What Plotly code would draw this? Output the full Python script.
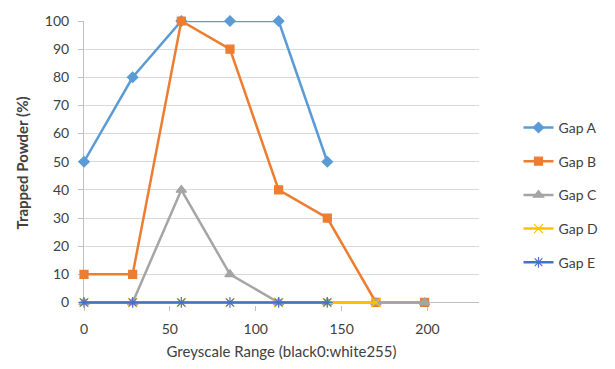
import plotly.graph_objects as go

# Greyscale bin centres (0..255 split into nine bins)
grey_a = [0, 28.33, 56.67, 85, 113.33, 141.67]
grey_b = [0, 28.33, 56.67, 85, 113.33, 141.67, 170, 198.33]
grey_c = [0, 28.33, 56.67, 85, 113.33, 141.67, 170, 198.33]
grey_d = [0, 28.33, 56.67, 85, 113.33, 141.67, 170]
grey_e = [0, 28.33, 56.67, 85, 113.33, 141.67]

gap_a = [50, 80, 100, 100, 100, 50]
gap_b = [10, 10, 100, 90, 40, 30, 0, 0]
gap_c = [0, 0, 40, 10, 0, 0, 0, 0]
gap_d = [0, 0, 0, 0, 0, 0, 0]
gap_e = [0, 0, 0, 0, 0, 0]

series = [
    ("Gap A", grey_a, gap_a, "#5B9BD5", "diamond", 8),
    ("Gap B", grey_b, gap_b, "#ED7D31", "square", 8),
    ("Gap C", grey_c, gap_c, "#A5A5A5", "triangle-up", 9),
    ("Gap D", grey_d, gap_d, "#FFC000", "x-thin-open", 9),
    ("Gap E", grey_e, gap_e, "#4472C4", "asterisk-open", 9),
]

FONT = "Lato, Liberation Sans, Arial, sans-serif"

fig = go.Figure()
for name, xs, ys, color, symbol, size in series:
    fig.add_trace(go.Scatter(
        x=xs, y=ys, name=name, mode="lines+markers",
        legendgroup=name, cliponaxis=False,
        line=dict(color=color, width=2.5),
        marker=dict(symbol=symbol, size=size, color=color,
                    line=dict(color=color, width=1.2)),
    ))

tick_font = dict(family=FONT, size=14, color="#404040")

fig.update_layout(
    width=615, height=369,
    margin=dict(l=84, r=135, t=15, b=64),
    paper_bgcolor="white", plot_bgcolor="white",
    showlegend=True,
    legend=dict(
        x=1.10, y=0.68, xanchor="left", yanchor="top",
        font=dict(family=FONT, size=14, color="#404040"),
        traceorder="grouped", tracegroupgap=12.5,
        bgcolor="rgba(0,0,0,0)",
    ),
    xaxis=dict(
        range=[0, 230], tickvals=[0, 50, 100, 150, 200],
        showgrid=False, zeroline=False,
        showline=False,
        ticks="outside", ticklen=5, tickcolor="#BFBFBF",
        ticklabelstandoff=6,
        tickfont=tick_font, layer="below traces",
        title=dict(text="Greyscale Range (black0:white255)",
                   font=dict(family=FONT, size=15, color="#404040"),
                   standoff=10),
    ),
    yaxis=dict(
        range=[-0.9, 100], tickvals=list(range(0, 101, 10)),
        showgrid=True, gridcolor="#D9D9D9", gridwidth=1,
        zeroline=True, zerolinecolor="#BFBFBF", zerolinewidth=1,
        showline=True, linecolor="#BFBFBF", linewidth=1,
        ticks="outside", ticklen=5, tickcolor="#BFBFBF",
        ticklabelstandoff=6,
        tickfont=tick_font, layer="below traces",
        title=dict(text="<b>Trapped Powder (%)</b>",
                   font=dict(family=FONT, size=15, color="#404040"),
                   standoff=12),
    ),
)

fig.write_html("out.html")
